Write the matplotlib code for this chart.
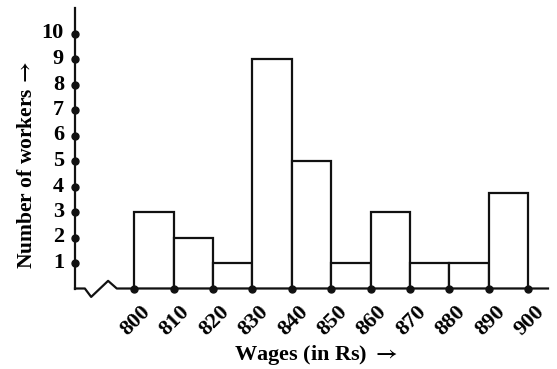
import matplotlib
matplotlib.use("Agg")
import matplotlib.pyplot as plt

edges = [800, 810, 820, 830, 840, 850, 860, 870, 880, 890, 900]
counts = [3, 2, 1, 9, 5, 1, 3, 1, 1, 3.75]
y_ticks = [1, 2, 3, 4, 5, 6, 7, 8, 9, 10]
x_label = r"Wages (in Rs) $\rightarrow$"
y_label = r"Number of workers$\,\rightarrow$"

plt.rcParams['font.family'] = ['Liberation Serif', 'DejaVu Serif']
plt.rcParams['font.weight'] = 'bold'
plt.rcParams['mathtext.fontset'] = 'stix'

W, H = 557, 369
fig = plt.figure(figsize=(W / 100, H / 100), dpi=100)
left, right = 75 / W, 548 / W
bottom, top = (H - 288.5) / H, (H - 8) / H
ax = fig.add_axes([left, bottom, right - left, top - bottom])
ax.set_xlim(785, 905)
ax.set_ylim(0, 11)
ax.axis('off')

lw = 1.6
# bars
widths = [edges[i + 1] - edges[i] for i in range(len(counts))]
ax.bar(edges[:-1], counts, width=widths, align='edge', facecolor='white',
       edgecolor='#111111', linewidth=lw, zorder=2)

# y axis
ax.plot([785, 785], [0, 11], color='#111111', lw=lw, clip_on=False, zorder=3)
# x axis with zigzag break
zx = [785, 787.5, 789.1, 793.4, 795.6, 905]
zy = [0, 0, -0.33, 0.3, 0, 0]
ax.plot(zx, zy, color='#111111', lw=lw, clip_on=False, zorder=3)

# dots
ax.plot([785] * len(y_ticks), y_ticks, 'o', color='#111111', ms=5, clip_on=False, zorder=4)
ax.plot(edges, [0] * len(edges), 'o', color='#111111', ms=5, clip_on=False, zorder=4)

fs = 16
for v in y_ticks:
    ax.annotate(str(v), (785, v), xytext=(-8, 0), textcoords='offset points',
                ha='right', va='center', fontsize=fs, fontweight='bold')
for e in edges:
    ax.annotate(str(e), (e, 0), xytext=(1, -23), textcoords='offset points',
                ha='center', va='center', rotation=45, fontsize=fs, fontweight='bold')

fig.text(316 / W, 1 - 355 / H, x_label, ha='center', va='center', fontsize=fs, fontweight='bold')
fig.text(27 / W, 1 - 165 / H, y_label, ha='center', va='center', rotation=90,
         fontsize=15.5, fontweight='bold')

fig.savefig('out.png', dpi=100, facecolor='white')
